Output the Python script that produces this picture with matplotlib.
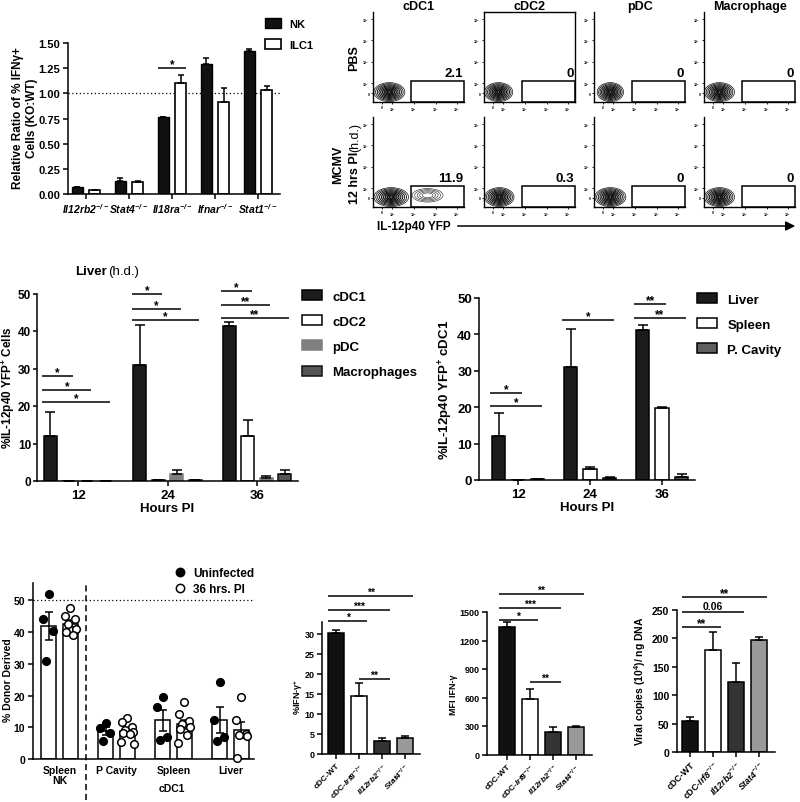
"""Multi-panel figure: IL-12p40 YFP in DC subsets and IFN-gamma readouts."""
import numpy as np
import matplotlib
matplotlib.use('Agg')
import matplotlib.pyplot as plt
from matplotlib.patches import Ellipse, Rectangle, FancyArrowPatch, Patch
from matplotlib.lines import Line2D

# ---------------- data ----------------
# A: relative ratio of % IFNg+ cells (KO:WT)
ko_genes = ['Il12rb2', 'Stat4', 'Il18ra', 'Ifnar', 'Stat1']
nk_ratio = [0.065, 0.13, 0.76, 1.29, 1.42]
nk_ratio_err = [0.006, 0.025, 0.005, 0.06, 0.02]
ilc1_ratio = [0.035, 0.115, 1.10, 0.91, 1.03]
ilc1_ratio_err = [0.008, 0.01, 0.085, 0.14, 0.045]

# B: flow plots, % in the YFP+ gate
flow_cells = ['cDC1', 'cDC2', 'pDC', 'Macrophage']
pbs_gate_pct = [2.1, 0, 0, 0]
mcmv_gate_pct = [11.9, 0.3, 0, 0]
flow_ticks = ['0', '$10^2$', '$10^3$', '$10^4$', '$10^5$']

# C: liver (h.d.), % IL-12p40 YFP+ cells
hours_pi = [12, 24, 36]
liver_pops = ['cDC1', 'cDC2', 'pDC', 'Macrophages']
cdc1_yfp = [12.0, 31.0, 41.3]
cdc1_yfp_err = [6.5, 10.5, 1.2]
cdc2_yfp = [0.0, 0.3, 12.0]
cdc2_yfp_err = [0.0, 0.0, 4.4]
pdc_yfp = [0.0, 1.8, 0.7]
pdc_yfp_err = [0.0, 1.1, 0.7]
mac_yfp = [0.0, 0.4, 2.0]
mac_yfp_err = [0.0, 0.0, 1.0]

# D: % IL-12p40 YFP+ cDC1 per organ
organs = ['Liver', 'Spleen', 'P. Cavity']
liver_cdc1 = [12.0, 31.0, 41.3]
liver_cdc1_err = [6.5, 10.5, 1.2]
spleen_cdc1 = [0.0, 2.9, 19.7]
spleen_cdc1_err = [0.0, 0.7, 0.3]
pcav_cdc1 = [0.3, 0.6, 0.8]
pcav_cdc1_err = [0.0, 0.2, 0.8]

# E: % donor derived (uninfected vs 36 hrs PI)
donor_groups = ['Spleen\nNK', 'P Cavity', 'Spleen', 'Liver']
nk_uninf = [52.0, 44.0, 40.5, 31.0]
nk_inf = [47.5, 45.0, 44.0, 42.5, 41.0, 40.0, 39.0]
pcav_uninf = [11.3, 9.8, 8.2, 5.8]
pcav_inf = [13.0, 11.8, 10.0, 9.0, 8.6, 8.3, 7.8, 5.5, 4.8]
spleen_uninf = [19.5, 16.5, 6.8, 6.0]
spleen_inf = [18.0, 14.3, 12.0, 11.0, 10.0, 9.5, 7.5, 5.0]
liver_uninf = [24.2, 12.3, 6.8, 5.8]
liver_inf = [19.5, 12.3, 7.8, 7.5, 7.2, 0.2]

# F-H: cDC knockouts
genotypes = ['cDC-WT', r'cDC-$\mathsf{Irf8}^{\mathsf{-/-}}$',
             r'$\mathsf{Il12rb2}^{\mathsf{-/-}}$', r'$\mathsf{Stat4}^{\mathsf{-/-}}$']
ifng_pct = [30.2, 14.6, 3.2, 4.1]
ifng_pct_err = [0.9, 3.1, 0.9, 0.5]
ifng_mfi = [1340, 580, 235, 290]
ifng_mfi_err = [50, 110, 55, 5]
viral_copies = [54, 179, 124, 197]
viral_copies_err = [8, 32, 32, 6]

# ---------------- style ----------------
plt.rcParams['font.family'] = ['Liberation Sans', 'DejaVu Sans']
plt.rcParams['font.weight'] = 'bold'
plt.rcParams['axes.labelweight'] = 'bold'
plt.rcParams['axes.linewidth'] = 1.1
plt.rcParams['xtick.major.width'] = 1.1
plt.rcParams['ytick.major.width'] = 1.1
plt.rcParams['mathtext.fontset'] = 'custom'
plt.rcParams['mathtext.rm'] = 'Liberation Sans:bold'
plt.rcParams['mathtext.it'] = 'Liberation Sans:italic:bold'
plt.rcParams['mathtext.bf'] = 'Liberation Sans:bold'
plt.rcParams['mathtext.sf'] = 'Liberation Sans:italic:bold'

W, H = 800, 803
fig = plt.figure(figsize=(W / 100, H / 100), dpi=100)


def add_ax(l, t, r, b):
    return fig.add_axes([l / W, 1 - b / H, (r - l) / W, (b - t) / H])


def ftext(x, y, s, **kw):
    fig.text(x / W, 1 - y / H, s, **kw)


def clean(ax, fs):
    ax.spines['top'].set_visible(False)
    ax.spines['right'].set_visible(False)
    ax.tick_params(labelsize=fs, length=3.5, width=1.1, pad=2)


def sig(ax, x1, x2, y, label, fs, up=0.5):
    ax.plot([x1, x2], [y, y], color='k', lw=1.1, clip_on=False,
            solid_capstyle='butt')
    ax.annotate(label, ((x1 + x2) / 2, y), xytext=(0, up),
                textcoords='offset points', ha='center', va='baseline',
                fontsize=fs, annotation_clip=False)


def upper_err(ax, x, y, err, cap):
    ax.errorbar(x, y, yerr=[np.zeros(len(err)), err], fmt='none',
                ecolor='k', elinewidth=1.1, capsize=cap, capthick=1.1,
                zorder=3)


# ---------------- A ----------------
axA = add_ax(68, 44, 280, 195)
xa = np.arange(len(ko_genes))
axA.bar(xa - 0.2, nk_ratio, 0.27, color='#111111', edgecolor='k', lw=1,
        zorder=2)
axA.bar(xa + 0.2, ilc1_ratio, 0.27, color='white', edgecolor='k', lw=1.2,
        zorder=2)
upper_err(axA, xa - 0.2, nk_ratio, nk_ratio_err, 2.5)
upper_err(axA, xa + 0.2, ilc1_ratio, ilc1_ratio_err, 2.5)
axA.axhline(1.0, ls=(0, (1, 2)), color='k', lw=0.9, zorder=1)
axA.set_xlim(-0.42, 4.51)
axA.set_ylim(0, 1.5)
axA.set_yticks(np.arange(0, 1.51, 0.25))
axA.set_yticklabels([f'{v:.2f}' for v in np.arange(0, 1.51, 0.25)])
axA.set_xticks(xa)
axA.set_xticklabels([r'$\mathsf{%s}^{\mathsf{-/-}}$' % g for g in ko_genes])
clean(axA, 8)
axA.tick_params(axis='x', labelsize=7.5)
sig(axA, 2 - 0.2 - 0.135, 2 + 0.2 + 0.135, 1.25, '*', 8.5)
ftext(25, 118, 'Relative Ratio of % IFNγ+\nCells (KO:WT)', rotation=90,
      ha='center', va='center', fontsize=8.5, linespacing=1.2)
fig.legend(handles=[Patch(facecolor='#111111', edgecolor='k'),
                    Patch(facecolor='white', edgecolor='k', lw=1.2)],
           labels=['NK', 'ILC1'], loc='upper left',
           bbox_to_anchor=(265 / W, 1 - 19 / H), frameon=False, fontsize=8,
           handlelength=1.45, handleheight=1.0, labelspacing=0.95,
           handletextpad=0.7, borderpad=0, borderaxespad=0)

# ---------------- B ----------------
flow_left = [373, 484, 594, 704]
row_top = [13, 118]
pbs_blob_cx = [0.18, 0.16, 0.18, 0.17]
pbs_blob_w = [0.34, 0.31, 0.29, 0.33]
mcmv_blob_cx = [0.20, 0.17, 0.18, 0.17]
mcmv_blob_w = [0.38, 0.32, 0.34, 0.33]
flow_tick_pos = [0.1, 0.21, 0.45, 0.69, 0.92]

for r, (pct, bcx, bw) in enumerate([(pbs_gate_pct, pbs_blob_cx, pbs_blob_w),
                                    (mcmv_gate_pct, mcmv_blob_cx, mcmv_blob_w)]):
    for c in range(len(flow_cells)):
        l, t = flow_left[c], row_top[r]
        ax = add_ax(l, t, l + 91, t + 90)
        ax.set_xlim(0, 1)
        ax.set_ylim(0, 1)
        ax.set_xticks(flow_tick_pos)
        ax.set_yticks(flow_tick_pos)
        ax.set_xticklabels(flow_ticks)
        ax.set_yticklabels(flow_ticks)
        ax.tick_params(labelsize=2.5, length=1.5, width=0.6, pad=1)
        boxed = (r == 0 and c == 1)
        ax.spines['top'].set_visible(boxed)
        ax.spines['right'].set_visible(boxed)
        for s in ax.spines.values():
            s.set_linewidth(1.0)
        for k, f in enumerate(np.linspace(1, 0.12, 9)):
            ax.add_patch(Ellipse((bcx[c], 0.11), bw[c] * f, 0.21 * f,
                                 fill=False, lw=0.5 + 0.08 * k, ec='#111111'))
        if r == 1 and c == 0:
            for f in np.linspace(1, 0.35, 5):
                ax.add_patch(Ellipse((0.6, 0.13), 0.34 * f, 0.15 * f,
                                     fill=False, lw=0.45, ec='#333333'))
        ax.add_patch(Rectangle((0.42, 0.0), 0.575, 0.23, fill=False, lw=1.1,
                               ec='k', clip_on=False))
        ax.text(0.99, 0.255, f'{pct[c]:g}', ha='right', va='bottom',
                fontsize=9.5, transform=ax.transAxes)
        if r == 0:
            ftext(l + 46, 1, flow_cells[c], ha='center', va='top',
                  fontsize=9)

ftext(354, 58, 'PBS', rotation=90, ha='center', va='center', fontsize=9)
ftext(338, 165, 'MCMV', rotation=90, ha='center', va='center', fontsize=9)
ftext(355, 178, '12 hrs PI', rotation=90, ha='center', va='center',
      fontsize=9)
ftext(355, 137, '(h.d.)', rotation=90, ha='center', va='center', fontsize=9,
      fontweight='normal')
ftext(377, 227, 'IL-12p40 YFP', ha='left', va='center', fontsize=8.5)
fig.add_artist(FancyArrowPatch((455 / W, 1 - 227 / H), (798 / W, 1 - 227 / H),
                               transform=fig.transFigure, arrowstyle='-|>',
                               mutation_scale=14, lw=1.1, color='k'))

# ---------------- C ----------------
axC = add_ax(37, 294.5, 298, 482)
c_vals = [cdc1_yfp, cdc2_yfp, pdc_yfp, mac_yfp]
c_errs = [cdc1_yfp_err, cdc2_yfp_err, pdc_yfp_err, mac_yfp_err]
c_face = ['#1c1c1c', 'white', '#7f7f7f', '#555555']
c_edge = ['k', 'k', '#7f7f7f', '#111111']
c_step, c_w = 2.48, 1.74
hx = np.array(hours_pi, dtype=float)
for i in range(4):
    xs = hx + (i - 1.5) * c_step
    axC.bar(xs, c_vals[i], c_w, color=c_face[i], edgecolor=c_edge[i], lw=1.1,
            zorder=2)
    upper_err(axC, xs, c_vals[i], c_errs[i], 3.5)
axC.set_xlim(6.5, 41.5)
axC.set_ylim(0, 50)
axC.set_xticks(hours_pi)
axC.set_yticks(range(0, 51, 10))
clean(axC, 9.5)
axC.tick_params(axis='y', labelsize=8.5, pad=1.2, length=3)
axC.set_xlabel('Hours PI', fontsize=9.5, labelpad=1)
c_sig = [(0, 1, 28, '*'), (0, 2, 24.3, '*'), (0, 3, 21, '*'),
         (1, 1, 50, '*'), (1, 2, 46, '*'), (1, 3, 43, '*'),
         (2, 1, 50.6, '*'), (2, 2, 47, '**'), (2, 3, 43.5, '**')]
for g, j, y, lab in c_sig:
    x1 = hx[g] - 1.5 * c_step - 0.6 * c_w
    x2 = hx[g] + (j - 1.5) * c_step + 0.3 * c_w
    sig(axC, x1, x2, y, lab, 8.5)
ftext(8.5, 388, r'%IL-12p40 YFP$^{\mathrm{+}}$ Cells', rotation=90,
      ha='center', va='center', fontsize=8.5)
ftext(75, 272, 'Liver', ha='left', va='center', fontsize=9.5)
ftext(108, 272, '(h.d.)', ha='left', va='center', fontsize=9.5,
      fontweight='normal')
fig.legend(handles=[Patch(facecolor=c_face[i], edgecolor=c_edge[i], lw=1.1)
                    for i in range(4)],
           labels=liver_pops, loc='upper left',
           bbox_to_anchor=(302 / W, 1 - 291 / H), frameon=False,
           fontsize=9.5, handlelength=1.5, handleheight=0.8,
           labelspacing=0.95, handletextpad=0.8, borderpad=0,
           borderaxespad=0)

# ---------------- D ----------------
axD = add_ax(479, 299, 695, 481)
d_vals = [liver_cdc1, spleen_cdc1, pcav_cdc1]
d_errs = [liver_cdc1_err, spleen_cdc1_err, pcav_cdc1_err]
d_face = ['#1c1c1c', 'white', '#5e5e5e']
d_step, d_w = 3.25, 2.33
for i in range(3):
    xs = hx + (i - 1) * d_step
    axD.bar(xs, d_vals[i], d_w, color=d_face[i], edgecolor='k', lw=1.1,
            zorder=2)
    upper_err(axD, xs, d_vals[i], d_errs[i], 3.5)
axD.set_xlim(5.5, 41.5)
axD.set_ylim(0, 50)
axD.set_xticks(hours_pi)
axD.set_yticks(range(0, 51, 10))
clean(axD, 9.5)
axD.tick_params(axis='y', pad=1.5)
axD.set_xlabel('Hours PI', fontsize=9.5, labelpad=1)
d_sig = [(0, 1, 23.9, '*'), (0, 2, 20.3, '*'), (1, 2, 44, '*'),
         (2, 1, 48.3, '**'), (2, 2, 44.5, '**')]
for g, j, y, lab in d_sig:
    x1 = hx[g] - d_step - 0.6 * d_w
    x2 = hx[g] + (j - 1) * d_step + 0.3 * d_w
    sig(axD, x1, x2, y, lab, 8.5)
ftext(446, 390, r'%IL-12p40 YFP$^{\mathrm{+}}$ cDC1', rotation=90,
      ha='center', va='center', fontsize=9.5)
fig.legend(handles=[Patch(facecolor=d_face[i], edgecolor='k', lw=1.1)
                    for i in range(3)],
           labels=organs, loc='upper left',
           bbox_to_anchor=(697 / W, 1 - 294 / H), frameon=False,
           fontsize=9.5, handlelength=1.5, handleheight=0.8,
           labelspacing=0.95, handletextpad=0.8, borderpad=0,
           borderaxespad=0)

# ---------------- E ----------------
axE = add_ax(33, 584, 254, 760)
uninf_sets = [nk_uninf, pcav_uninf, spleen_uninf, liver_uninf]
inf_sets = [nk_inf, pcav_inf, spleen_inf, liver_inf]
jitter = np.array([0.0, -0.1, 0.08, -0.04, 0.1, -0.08, 0.04, -0.11, 0.11])
e_off, e_w = 0.19, 0.26
for g in range(len(donor_groups)):
    for sgn, pts, face in [(-1, uninf_sets[g], 'k'), (1, inf_sets[g], 'white')]:
        pts = np.array(pts)
        xc = g + sgn * e_off
        m = pts.mean()
        sem = pts.std(ddof=1) / np.sqrt(len(pts))
        axE.bar(xc, m, e_w, color='white', edgecolor='k', lw=1.1, zorder=2)
        axE.errorbar(xc, m, yerr=sem, fmt='none', ecolor='k', elinewidth=1.1,
                     capsize=3, capthick=1.1, zorder=3)
        axE.scatter(xc + jitter[:len(pts)], pts, s=30, facecolor=face,
                    edgecolor='k', lw=1.1, zorder=4, clip_on=False)
axE.axhline(50, ls=(0, (1, 2)), color='k', lw=0.9, zorder=1)
axE.plot([0.47, 0.47], [-13, 55.5], color='k', lw=1.1, ls=(0, (4, 2.5)),
         clip_on=False)
axE.set_xlim(-0.465, 3.41)
axE.set_ylim(0, 55.5)
axE.set_yticks(range(0, 51, 10))
axE.set_xticks(range(len(donor_groups)))
axE.set_xticklabels(donor_groups, linespacing=1.0)
clean(axE, 7.5)
axE.tick_params(axis='x', length=0, pad=4)
ftext(172, 789, 'cDC1', ha='center', va='center', fontsize=7.5)
ftext(8, 680, '% Donor Derived', rotation=90, ha='center', va='center',
      fontsize=7.5)
fig.legend(handles=[Line2D([], [], ls='none', marker='o', ms=6, mfc='k',
                           mec='k', mew=1.1),
                    Line2D([], [], ls='none', marker='o', ms=6, mfc='white',
                           mec='k', mew=1.1)],
           labels=['Uninfected', '36 hrs. PI'], loc='upper left',
           bbox_to_anchor=(174 / W, 1 - 568 / H), frameon=False,
           fontsize=8.5, handlelength=1.0, labelspacing=0.35,
           handletextpad=0.6, borderpad=0, borderaxespad=0)

# ---------------- F, G, H ----------------
ko_face = ['#111111', 'white', '#333333', '#999999']
xg = np.arange(len(genotypes))
panels = [
    (add_ax(322, 623, 420, 755), ifng_pct, ifng_pct_err, (0, 33),
     range(0, 31, 5), (-0.61, 3.65), r'%IFN-γ$^{\mathrm{+}}$', 298, 697,
     6.5, 6, [(0, 1, 33.3, '*'), (0, 2, 36, '***'), (0, 3, 39.5, '**'),
              (1, 2, 18.75, '**')]),
    (add_ax(487, 613, 592, 755.5), ifng_mfi, ifng_mfi_err, (0, 1500),
     range(0, 1501, 300), (-0.87, 3.7), 'MFI IFN-γ', 453, 695,
     6.5, 6, [(0, 1, 1416, '*'), (0, 2, 1542, '***'), (0, 3, 1690, '**'),
              (1, 2, 763, '**')]),
    (add_ax(677, 611, 775, 753), viral_copies, viral_copies_err, (0, 250),
     range(0, 251, 50), (-0.565, 3.7),
     r'Viral copies (10$^{\mathrm{4}}$)/ ng DNA', 640, 681,
     7.5, 6.4, [(0, 1, 220, '**'), (0, 2, 246, '0.06'), (0, 3, 273, '**')]),
]
bw = 0.67
for (ax, vals, errs, ylim, yt, xlim, ylab, ylx, yly, fs, xfs,
     sigs) in panels:
    ax.bar(xg, vals, bw, color=ko_face, edgecolor='k', lw=1.1, zorder=2)
    upper_err(ax, xg, vals, errs, 3)
    ax.set_ylim(*ylim)
    ax.set_xlim(*xlim)
    ax.set_yticks(list(yt))
    ax.set_xticks(xg)
    ax.set_xticklabels(genotypes, rotation=45, ha='right',
                       rotation_mode='anchor')
    clean(ax, fs)
    ax.tick_params(axis='x', labelsize=xfs)
    for i, j, y, lab in sigs:
        x1 = xg[i] - bw / 2 if i == 0 else xg[i]
        x2 = xg[j] + bw / 2
        sig(ax, x1, x2, y, lab, fs + 1 if lab != '0.06' else fs,
            up=0.5 if lab != '0.06' else 2)
    ftext(ylx, yly, ylab, rotation=90, ha='center', va='center', fontsize=fs)

fig.savefig('out.png', dpi=100)
